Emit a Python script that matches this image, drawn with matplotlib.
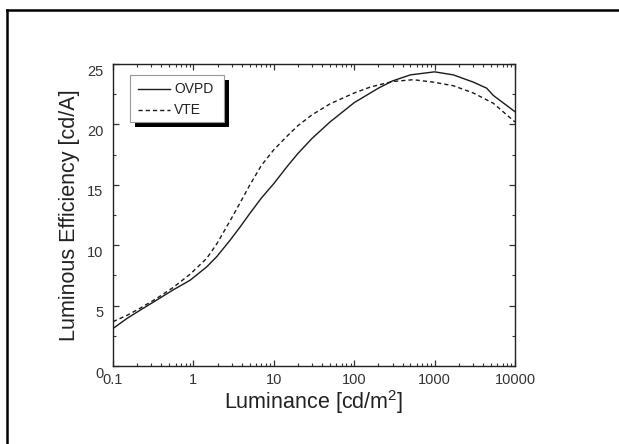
import matplotlib
matplotlib.use("Agg")
import matplotlib.pyplot as plt
import matplotlib.transforms as mtransforms
from matplotlib.patches import Rectangle
from matplotlib.lines import Line2D
from matplotlib.ticker import LogLocator, MultipleLocator, FixedLocator, FixedFormatter, NullFormatter

plt.rcParams['font.family'] = ['Liberation Sans', 'DejaVu Sans']
plt.rcParams['mathtext.fontset'] = 'custom'
plt.rcParams['mathtext.rm'] = 'Liberation Sans'
plt.rcParams['mathtext.it'] = 'Liberation Sans'

# ---- data ----
ovpd_lum = [0.1, 0.15, 0.22, 0.35, 0.56, 0.91, 1.46, 1.95, 2.85, 3.8, 5, 7, 10,
            15, 20, 30, 50, 100, 200, 300, 500, 1000, 1710, 3030, 4440, 5370, 10000]
ovpd_eff = [3.1, 3.95, 4.64, 5.46, 6.3, 7.1, 8.2, 9.05, 10.4, 11.5, 12.6, 13.9, 15.1,
            16.6, 17.6, 18.85, 20.2, 21.8, 23.0, 23.6, 24.1, 24.35, 24.1, 23.5, 23.0, 22.4, 21.05]
vte_lum = [0.1, 0.15, 0.22, 0.35, 0.56, 0.91, 1.46, 1.95, 2.85, 3.8, 5, 7, 10,
           15, 20, 30, 50, 100, 160, 300, 543, 964, 1710, 3030, 5370, 10000]
vte_eff = [3.67, 4.2, 4.8, 5.6, 6.5, 7.6, 8.9, 10.1, 12.0, 13.5, 14.95, 16.6, 17.9,
           19.1, 19.9, 20.8, 21.7, 22.6, 23.1, 23.55, 23.7, 23.5, 23.2, 22.6, 21.75, 20.2]
x_ticks = [0.1, 1, 10, 100, 1000, 10000]
x_ticklabels = ['0.1', '1', '10', '100', '1000', '10000']
y_ticks = [0, 5, 10, 15, 20, 25]
series_names = ['OVPD', 'VTE']

W, H = 619, 444
fig = plt.figure(figsize=(W / 100, H / 100), dpi=100)
ax = fig.add_axes([113 / W, 1 - 366 / H, 402 / W, 302 / H])

ax.plot(ovpd_lum, ovpd_eff, color='#1a1a1a', lw=1.0, ls='-')
ax.plot(vte_lum, vte_eff, color='#1a1a1a', lw=1.0, ls=(0, (3, 2.2)))

ax.set_xscale('log')
ax.set_xlim(0.1, 10000)
ax.set_ylim(0, 25)
ax.xaxis.set_major_locator(FixedLocator(x_ticks))
ax.xaxis.set_major_formatter(FixedFormatter(x_ticklabels))
ax.xaxis.set_minor_locator(LogLocator(base=10, subs=range(2, 10), numticks=20))
ax.xaxis.set_minor_formatter(NullFormatter())
ax.yaxis.set_major_locator(FixedLocator(y_ticks))
ax.yaxis.set_minor_locator(MultipleLocator(2.5))

ax.tick_params(which='both', direction='in', top=True, right=True, color='#333333')
ax.tick_params(which='major', length=4, width=0.9, labelsize=10.5, colors='#333333')
ax.tick_params(axis='x', which='major', pad=5)
ax.tick_params(axis='y', which='major', pad=7)
ax.tick_params(which='minor', length=2.5, width=0.8)
for s in ax.spines.values():
    s.set_linewidth(1.0)
    s.set_color('#222222')

# y tick labels sit slightly below their ticks in the reference
off = mtransforms.ScaledTranslation(0, -6 / 100, fig.dpi_scale_trans)
for lbl in ax.get_yticklabels():
    lbl.set_transform(lbl.get_transform() + off)

ax.set_xlabel('Luminance [cd/m$^{2}$]', fontsize=15.5, color='#222222', labelpad=1)
ax.set_ylabel('Luminous Efficiency [cd/A]', fontsize=15.5, color='#222222', labelpad=5)

# legend with a solid offset shadow
lx0, lx1 = (130 - 113) / 402, (224 - 113) / 402
ly0, ly1 = (366 - 122) / 302, (366 - 75) / 302
sh = mtransforms.ScaledTranslation(4.5 / 100, -5 / 100, fig.dpi_scale_trans)
ax.add_patch(Rectangle((lx0, ly0), lx1 - lx0, ly1 - ly0, transform=ax.transAxes + sh,
                       facecolor='black', edgecolor='black', lw=0, zorder=5))
ax.add_patch(Rectangle((lx0, ly0), lx1 - lx0, ly1 - ly0, transform=ax.transAxes,
                       facecolor='white', edgecolor='#999999', lw=0.8, zorder=6))
styles = ['-', (0, (3, 2.2))]
for i, (name, st) in enumerate(zip(series_names, styles)):
    yy = (366 - (89 + 21 * i)) / 302
    ax.add_line(Line2D([(138 - 113) / 402, (170 - 113) / 402], [yy, yy], transform=ax.transAxes,
                       color='#1a1a1a', lw=1.0, ls=st, zorder=7))
    ax.text((174 - 113) / 402, yy, name, transform=ax.transAxes, fontsize=10,
            va='center', ha='left', color='#222222', zorder=7)

# page border (left and top)
fig.add_artist(Line2D([7 / W, 7 / W], [0, 1 - 10 / H], transform=fig.transFigure, color='black', lw=1.8))
fig.add_artist(Line2D([7 / W, 1], [1 - 10 / H, 1 - 10 / H], transform=fig.transFigure, color='black', lw=1.8))

fig.savefig('out.png', dpi=100)
